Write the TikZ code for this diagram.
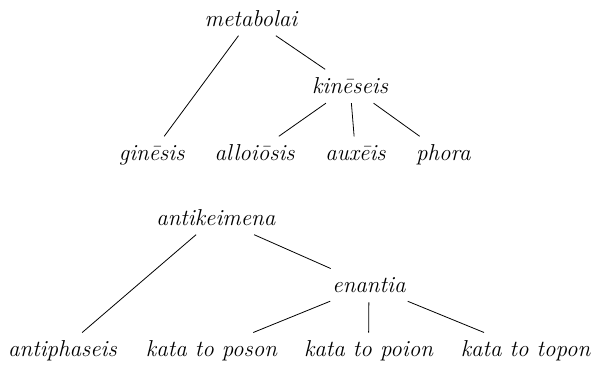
\documentclass[tikz,border=0pt]{standalone}
\usepackage{fontspec}
\begin{document}
\begin{tikzpicture}[x=1pt,y=-1pt,
  term/.style={anchor=base, font=\fontsize{23}{27}\selectfont\itshape\addfontfeature{FakeBold=0.6},
    text height=14.5pt, text depth=0pt, inner xsep=2pt, inner ysep=9.5pt},
  edge/.style={line width=0.8pt}]
\useasboundingbox (0,0) rectangle (591,364);
% upper tree
\node[term] (metabolai) at (251,26) {metabolai};
\node[term] (kineseis) at (350,93.5) {kinēseis};
\node[term] (ginesis) at (151.7,160.5) {ginēsis};
\node[term] (alloiosis) at (254.7,160.5) {alloiōsis};
\node[term] (auxeis) at (355.5,160.5) {auxēis};
\node[term] (phora) at (443.3,160.5) {phora};
\draw[edge] (metabolai) -- (ginesis);
\draw[edge] (metabolai) -- (kineseis);
\draw[edge] (kineseis) -- (alloiosis);
\draw[edge] (kineseis) -- (auxeis);
\draw[edge] (kineseis) -- (phora);
% lower tree
\node[term] (antikeimena) at (215.8,225) {antikeimena};
\node[term] (enantia) at (369,292.7) {enantia};
\node[term] (antiphaseis) at (62.5,356.7) {antiphaseis};
\node[term] (poson) at (211.5,356.7) {kata to poson};
\node[term] (poion) at (368.5,356.7) {kata to poion};
\node[term] (topon) at (525.5,356.7) {kata to topon};
\draw[edge] (antikeimena) -- (antiphaseis);
\draw[edge] (antikeimena) -- (enantia);
\draw[edge] (enantia) -- (poson);
\draw[edge] (enantia) -- (poion);
\draw[edge] (enantia) -- (topon);
\end{tikzpicture}
\end{document}
